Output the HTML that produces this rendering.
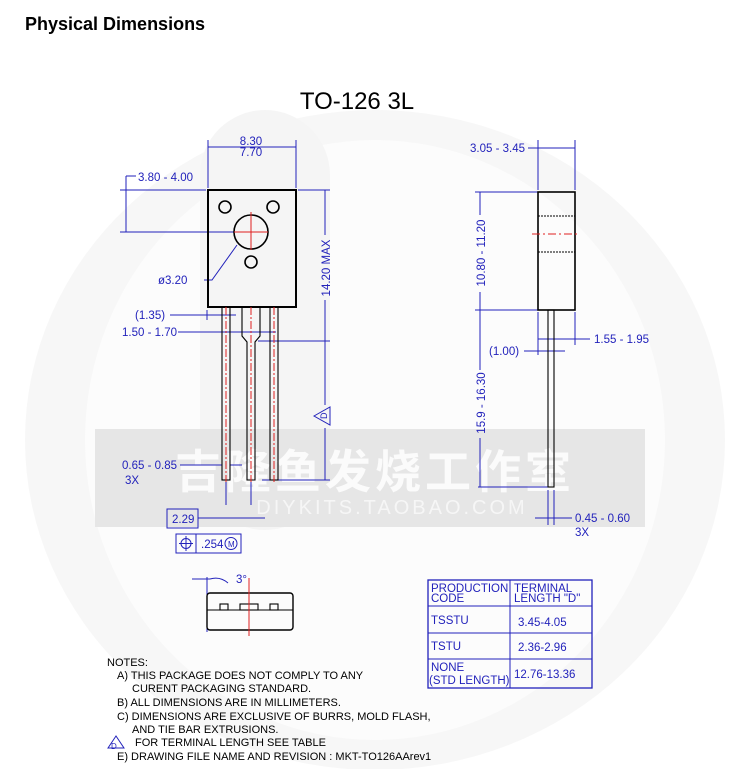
<!DOCTYPE html>
<html><head><meta charset="utf-8"><style>
html,body{margin:0;padding:0;background:#fff;}
svg{display:block;}
text{font-family:"Liberation Sans","Noto Sans CJK SC",sans-serif;}
</style></head><body>
<svg width="750" height="769" viewBox="0 0 750 769" xmlns="http://www.w3.org/2000/svg">
<!-- watermark background -->
<ellipse cx="375" cy="440" rx="350" ry="330" fill="#f7f7f7"/>
<ellipse cx="375" cy="440" rx="290" ry="300" fill="#fcfcfc"/>
<rect x="200" y="110" width="130" height="420" rx="65" fill="#f5f5f5"/>
<rect x="95" y="429" width="550" height="98" fill="#e6e6e6"/>
<text x="375" y="488" text-anchor="middle" font-size="46" font-weight="bold" fill="#fbfbfb" letter-spacing="4">吉隆鱼发烧工作室</text>
<text x="392" y="514" text-anchor="middle" font-size="20" fill="#f6f6f6" letter-spacing="3">DIYKITS.TAOBAO.COM</text>

<text x="25" y="30" font-size="18" font-weight="bold" fill="#000">Physical Dimensions</text>
<text x="357" y="109" text-anchor="middle" font-size="24" fill="#000">TO-126 3L</text>

<g fill="none" stroke="#2222bb" stroke-width="1">
<line x1="208" y1="140" x2="208" y2="188"/><line x1="296" y1="140" x2="296" y2="188"/>
<line x1="208" y1="147" x2="296" y2="147"/>
<line x1="126" y1="176" x2="136" y2="176"/><line x1="126" y1="176" x2="126" y2="232"/>
<line x1="120" y1="190" x2="206" y2="190"/><line x1="120" y1="232" x2="250" y2="232"/>
<line x1="298" y1="190" x2="330" y2="190"/>
<line x1="325" y1="190" x2="325" y2="235"/><line x1="325" y1="300" x2="325" y2="405"/>
<line x1="325" y1="428" x2="325" y2="480"/>
<line x1="262" y1="480" x2="330" y2="480"/>
<line x1="258" y1="341" x2="330" y2="341"/>
<polyline points="204,280 212,280 237,245"/>
<line x1="170" y1="315" x2="236" y2="315"/><line x1="207" y1="310" x2="207" y2="320"/>
<line x1="178" y1="332" x2="276" y2="332"/>
<line x1="180" y1="465" x2="222" y2="465"/><line x1="230" y1="465" x2="242" y2="465"/>
<line x1="226" y1="480" x2="226" y2="505"/><line x1="251" y1="480" x2="251" y2="505"/>
<line x1="198" y1="518" x2="265" y2="518"/>
<polygon points="314,416 330,407 330,425"/>
<line x1="538" y1="140" x2="538" y2="190"/><line x1="575" y1="140" x2="575" y2="190"/>
<line x1="528" y1="148" x2="575" y2="148"/>
<line x1="475" y1="192" x2="538" y2="192"/>
<line x1="480" y1="192" x2="480" y2="215"/><line x1="480" y1="292" x2="480" y2="370"/>
<line x1="480" y1="438" x2="480" y2="487"/>
<line x1="475" y1="310" x2="538" y2="310"/>
<line x1="478" y1="487" x2="548" y2="487"/>
<line x1="575" y1="312" x2="575" y2="345"/>
<line x1="538" y1="312" x2="538" y2="355"/>
<line x1="538" y1="339" x2="590" y2="339"/>
<line x1="524" y1="351" x2="565" y2="351"/>
<line x1="548" y1="490" x2="548" y2="525"/><line x1="554" y1="490" x2="554" y2="525"/>
<line x1="535" y1="518" x2="572" y2="518"/>
<rect x="167" y="509" width="31" height="19"/>
<rect x="176" y="534" width="65" height="19"/><line x1="196" y1="534" x2="196" y2="553"/>
<circle cx="186" cy="543.5" r="5"/><line x1="186" y1="536" x2="186" y2="551"/><line x1="179" y1="543.5" x2="193" y2="543.5"/>
<circle cx="231" cy="543.5" r="6"/>
<line x1="192" y1="579" x2="210" y2="579"/><path d="M210 579 Q220 576 228 583"/>
<line x1="207" y1="577" x2="207" y2="632"/>
<rect x="428" y="580" width="164" height="108" stroke-width="1.3"/>
<line x1="510" y1="580" x2="510" y2="688"/>
<line x1="428" y1="606" x2="592" y2="606"/><line x1="428" y1="633" x2="592" y2="633"/><line x1="428" y1="659" x2="592" y2="659"/>
<polygon points="108,748 116,736 124,748"/>
</g>

<g fill="none" stroke="#000" stroke-width="2">
<rect x="208" y="190" width="88" height="117"/>
<circle cx="225" cy="207" r="6" stroke-width="1.6"/><circle cx="273" cy="207" r="6" stroke-width="1.6"/>
<circle cx="251" cy="232" r="17" stroke-width="1.6"/><circle cx="251" cy="262" r="6" stroke-width="1.6"/>
</g>
<g fill="none" stroke="#000" stroke-width="1.1">
<rect x="222" y="307" width="8" height="173"/>
<path d="M242 307 V336 L247 342 V480 H255 V342 L260 336 V307"/>
<rect x="270" y="307" width="8" height="173"/>
<rect x="538" y="192" width="37" height="118" stroke-width="1.6"/>
<line x1="538" y1="216" x2="575" y2="216" stroke-dasharray="2,1"/>
<line x1="538" y1="252" x2="575" y2="252" stroke-dasharray="2,1"/>
<rect x="548" y="310" width="6" height="177"/>
<rect x="207" y="593" width="86" height="37" rx="3" stroke-width="1.4"/>
<line x1="207" y1="610" x2="293" y2="610"/>
<rect x="220" y="604" width="8" height="6"/><rect x="240" y="604" width="18" height="6"/><rect x="270" y="604" width="8" height="6"/>
</g>
<g stroke="#e02020" stroke-width="1" fill="none">
<line x1="251" y1="212" x2="251" y2="250"/><line x1="234" y1="232" x2="268" y2="232"/>
<line x1="226" y1="307" x2="226" y2="482" stroke-dasharray="8,2,2,2"/>
<line x1="251" y1="307" x2="251" y2="482" stroke-dasharray="8,2,2,2"/>
<line x1="274" y1="307" x2="274" y2="482" stroke-dasharray="8,2,2,2"/>
<line x1="532" y1="234" x2="580" y2="234" stroke-dasharray="8,3,2,3"/>
<line x1="249" y1="578" x2="249" y2="636"/>
</g>

<g fill="#2222bb" font-size="11.5">
<text x="251" y="145" text-anchor="middle">8.30</text>
<text x="251" y="156" text-anchor="middle">7.70</text>
<text x="138" y="181">3.80 - 4.00</text>
<text x="158" y="284">ø3.20</text>
<text x="330" y="268" transform="rotate(-90 330 268)" text-anchor="middle">14.20 MAX</text>
<text x="135" y="319">(1.35)</text>
<text x="122" y="336">1.50 - 1.70</text>
<text x="122" y="469">0.65 - 0.85</text>
<text x="125" y="484">3X</text>
<text x="172" y="523">2.29</text>
<text x="201" y="548">.254</text>
<text x="228" y="547" font-size="8">M</text>
<text x="320" y="420" font-size="9" transform="rotate(-90 323 416)">D</text>
<text x="236" y="583">3°</text>
<text x="470" y="152">3.05 - 3.45</text>
<text x="485" y="253" transform="rotate(-90 485 253)" text-anchor="middle">10.80 - 11.20</text>
<text x="485" y="403" transform="rotate(-90 485 403)" text-anchor="middle">15.9 - 16.30</text>
<text x="594" y="343">1.55 - 1.95</text>
<text x="489" y="355">(1.00)</text>
<text x="575" y="522">0.45 - 0.60</text>
<text x="575" y="536">3X</text>
<text x="431" y="592">PRODUCTION</text><text x="431" y="602">CODE</text>
<text x="514" y="592">TERMINAL</text><text x="514" y="602">LENGTH "D"</text>
<text x="431" y="624">TSSTU</text><text x="518" y="626">3.45-4.05</text>
<text x="431" y="650">TSTU</text><text x="518" y="651">2.36-2.96</text>
<text x="431" y="671">NONE</text><text x="429" y="684">(STD LENGTH)</text><text x="514" y="678">12.76-13.36</text>
<text x="111" y="749" font-size="8">D</text>
</g>
<g fill="#000" font-size="11">
<text x="107" y="666">NOTES:</text>
<text x="117" y="679">A) THIS PACKAGE DOES NOT COMPLY TO ANY</text>
<text x="132" y="692">CURENT PACKAGING STANDARD.</text>
<text x="117" y="706">B) ALL DIMENSIONS ARE IN MILLIMETERS.</text>
<text x="117" y="720">C) DIMENSIONS ARE EXCLUSIVE OF BURRS, MOLD FLASH,</text>
<text x="132" y="733">AND TIE BAR EXTRUSIONS.</text>
<text x="135" y="746">FOR TERMINAL LENGTH SEE TABLE</text>
<text x="117" y="760">E) DRAWING FILE NAME AND REVISION :  MKT-TO126AArev1</text>
</g>
</svg>
</body></html>
